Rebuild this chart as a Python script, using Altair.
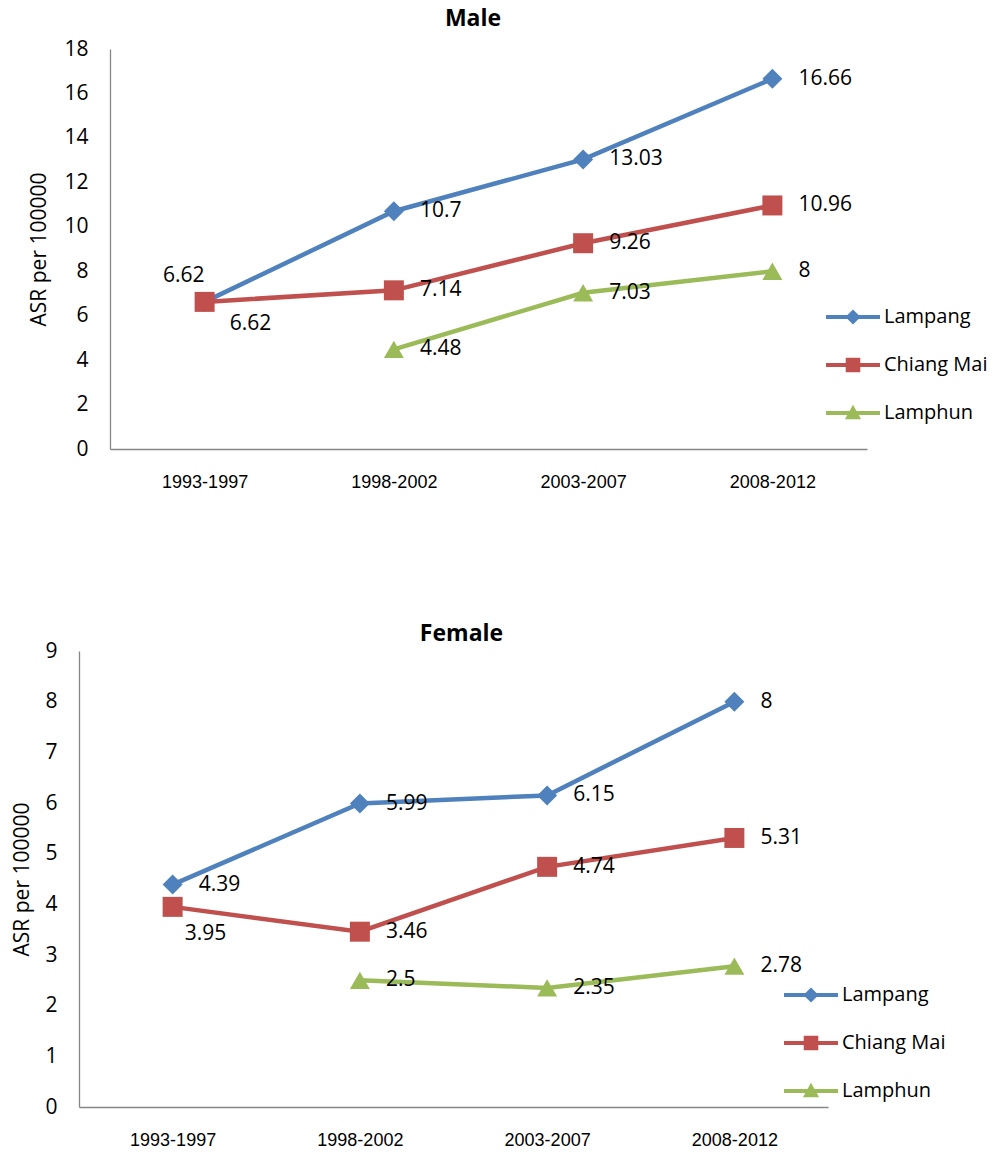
import altair as alt
import pandas as pd

# Age-standardised rates per 100,000 by period and province
periods = ["1993-1997", "1998-2002", "2003-2007", "2008-2012"]
provinces = ["Lampang", "Chiang Mai", "Lamphun"]

male_lampang = [6.62, 10.7, 13.03, 16.66]
male_chiang_mai = [6.62, 7.14, 9.26, 10.96]
male_lamphun = [None, 4.48, 7.03, 8]

female_lampang = [4.39, 5.99, 6.15, 8]
female_chiang_mai = [3.95, 3.46, 4.74, 5.31]
female_lamphun = [None, 2.5, 2.35, 2.78]

colors = ["#4F81BD", "#C0504D", "#9BBB59"]
markers = ["diamond", "square", "triangle-up"]

# Legend keys: a short thick line with the series marker in its middle
KEY_LINE = "M-1,-0.075L1,-0.075L1,0.075L-1,0.075Z"
key_symbols = [
    KEY_LINE + "M0,-0.28L0.28,0L0,0.28L-0.28,0Z",
    KEY_LINE + "M-0.27,-0.27L0.27,-0.27L0.27,0.27L-0.27,0.27Z",
    KEY_LINE + "M0,-0.31L0.3,0.23L-0.3,0.23Z",
]

LABEL_FONT = "Open Sans"
TICK_FONT = "Liberation Sans"
AXIS_GREY = "#868686"


def to_frame(series):
    rows = []
    for name, values in zip(provinces, series):
        for period, v in zip(periods, values):
            if v is not None:
                rows.append({"period": period, "province": name, "asr": v})
    return pd.DataFrame(rows)


def panel(df, title, ymax, ystep, width, height, x_range, y_offset, title_pad,
          title_offset, title_dx, legend_x, legend_y, moved_labels):
    x = alt.X(
        "period:N",
        sort=periods,
        scale=alt.Scale(type="point", domain=periods, padding=0.5, range=x_range),
        axis=alt.Axis(
            title=None, labelAngle=0, labelFont=TICK_FONT, labelFontSize=18,
            labelColor="black", labelPadding=24, ticks=False, tickSize=0,
            grid=False, domainColor=AXIS_GREY, domainWidth=1.3,
        ),
    )
    y = alt.Y(
        "asr:Q",
        scale=alt.Scale(domain=[0, ymax], nice=False, zero=True),
        axis=alt.Axis(
            title="ASR per 100000", values=list(range(0, ymax + 1, ystep)),
            labelFont=LABEL_FONT, labelFontSize=21, labelColor="black",
            labelPadding=22, ticks=False, tickSize=0, grid=False,
            domainColor=AXIS_GREY, domainWidth=1.3, offset=y_offset,
            titleFont=LABEL_FONT, titleFontSize=21, titleFontWeight="normal",
            titleColor="black", titlePadding=title_pad,
        ),
    )
    color_scale = alt.Scale(domain=provinces, range=colors)

    lines = alt.Chart(df).mark_line(strokeWidth=4.5).encode(
        x=x, y=y, color=alt.Color("province:N", scale=color_scale, legend=None)
    )
    points = alt.Chart(df).mark_point(filled=True, size=400, opacity=1).encode(
        x=x, y=y,
        color=alt.Color("province:N", scale=color_scale, legend=None),
        shape=alt.Shape("province:N", scale=alt.Scale(domain=provinces, range=markers), legend=None),
    )

    key_legend = alt.Legend(
        title=None, orient="none", legendX=legend_x, legendY=legend_y,
        direction="vertical", symbolSize=2916, symbolStrokeWidth=0,
        symbolOpacity=1, labelFont=LABEL_FONT, labelFontSize=20,
        labelColor="black", labelOffset=4, rowPadding=11, padding=0,
    )
    key = alt.Chart(df).mark_point(filled=True, opacity=1).encode(
        x=x, y=y,
        color=alt.Color("province:N", scale=color_scale, legend=key_legend),
        shape=alt.Shape("province:N", scale=alt.Scale(domain=provinces, range=key_symbols), legend=key_legend),
    ).transform_filter("false")

    def value_labels(filter_expr, dx, dy, align):
        return alt.Chart(df).mark_text(
            align=align, baseline="middle", dx=dx, dy=dy,
            font=LABEL_FONT, fontSize=21, color="black",
        ).encode(
            x=x, y=y, text=alt.Text("asr:Q", format=".4~g")
        ).transform_filter(filter_expr)

    def match(prov, period):
        return f"(datum.province === '{prov}' && datum.period === '{period}')"

    layers = [lines, points, key]
    moved = " || ".join(match(p, q) for p, q, *_ in moved_labels)
    layers.append(value_labels(f"!({moved})", 26, 0, "left"))
    for prov, period, dx, dy, align in moved_labels:
        layers.append(value_labels(match(prov, period), dx, dy, align))

    return alt.layer(*layers).resolve_scale(
        color="independent", shape="independent"
    ).properties(
        width=width, height=height,
        title=alt.TitleParams(
            text=title, font=LABEL_FONT, fontSize=23, fontWeight="bold",
            color="black", anchor="middle", frame="group",
            offset=title_offset, dx=title_dx,
        ),
    )


male = panel(
    to_frame([male_lampang, male_chiang_mai, male_lamphun]),
    "Male", 18, 2, 788, 400, [31, 788], -31, 14, 7, 0, 747, 241,
    [
        ("Lampang", "1993-1997", 0, -26, "right"),
        ("Chiang Mai", "1993-1997", 25, 22, "left"),
    ],
)
female = panel(
    to_frame([female_lampang, female_chiang_mai, female_lamphun]),
    "Female", 9, 1, 749, 456, [0, 749], 0, 12, -6, 8, 705, 317,
    [
        ("Chiang Mai", "1993-1997", 12, 27, "left"),
    ],
)

chart = alt.vconcat(male, female, spacing=132).properties(
    padding={"left": 11, "top": 8, "right": 5, "bottom": 5},
    background="white",
).configure_view(stroke=None)

chart.save("out.html", embed_options={"renderer": "svg", "actions": False})
